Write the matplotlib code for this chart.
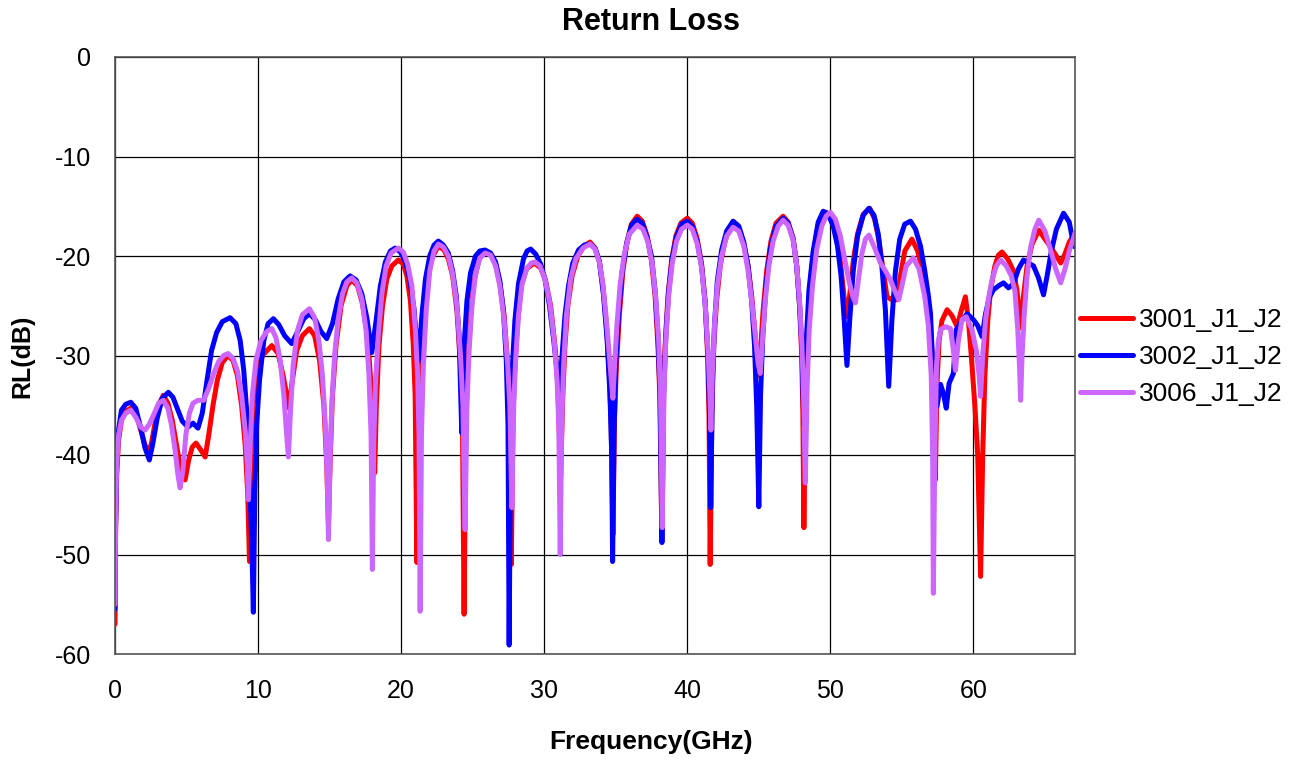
import matplotlib
matplotlib.use("Agg")
import matplotlib.pyplot as plt

plt.rcParams['font.family'] = ['Liberation Sans', 'DejaVu Sans']

title = "Return Loss"
xlabel = "Frequency(GHz)"
ylabel = "RL(dB)"
series_names = ["3001_J1_J2", "3002_J1_J2", "3006_J1_J2"]
series_colors = ["#FF0000", "#0000FF", "#CC66FF"]
x_ticks = [0, 10, 20, 30, 40, 50, 60]
y_ticks = [0, -10, -20, -30, -40, -50, -60]

# 3001_J1_J2 (red)
freq_3001 = [
    0.0, 0.04, 0.12, 0.25, 0.45, 0.75, 1.1, 1.45, 1.8, 2.1, 2.33, 2.55, 2.8, 3.1, 3.38, 3.7,
    4.0, 4.3, 4.6, 4.9, 5.15, 5.4, 5.66, 6.0, 6.3, 6.55, 6.85, 7.15, 7.5, 7.9, 8.25, 8.55,
    8.85, 9.1, 9.28, 9.4, 9.5, 9.65, 9.9, 10.3, 10.96, 11.4, 11.75, 12.0, 12.17, 12.35, 12.7, 13.1,
    13.59, 13.95, 14.3, 14.6, 14.8, 14.92, 15.05, 15.2, 15.45, 15.8, 16.2, 16.55, 16.95, 17.3, 17.65, 17.9,
    18.05, 18.15, 18.27, 18.45, 18.7, 19.0, 19.35, 19.8, 20.15, 20.4, 20.65, 20.85, 20.98, 21.1, 21.22, 21.35,
    21.55, 21.8, 22.1, 22.6, 23.0, 23.3, 23.6, 23.9, 24.15, 24.28, 24.4, 24.52, 24.65, 24.85, 25.1, 25.45,
    25.87, 26.25, 26.6, 26.9, 27.2, 27.45, 27.58, 27.7, 27.82, 27.95, 28.15, 28.4, 28.75, 29.3, 29.75, 30.1,
    30.45, 30.75, 30.95, 31.15, 31.3, 31.45, 31.65, 31.95, 32.35, 32.8, 33.2, 33.55, 33.85, 34.1, 34.35, 34.55,
    34.68, 34.8, 34.92, 35.05, 35.25, 35.5, 35.8, 36.1, 36.5, 36.85, 37.2, 37.5, 37.75, 37.95, 38.08, 38.2,
    38.32, 38.45, 38.65, 38.9, 39.2, 39.55, 40.0, 40.35, 40.7, 41.0, 41.25, 41.42, 41.52, 41.6, 41.72, 41.85,
    42.05, 42.3, 42.6, 42.9, 43.2, 43.6, 43.95, 44.25, 44.5, 44.75, 44.9, 45.0, 45.12, 45.3, 45.55, 45.85,
    46.2, 46.7, 47.05, 47.4, 47.65, 47.85, 48.0, 48.08, 48.15, 48.25, 48.38, 48.55, 48.8, 49.1, 49.4, 49.7,
    50.05, 50.4, 50.7, 50.95, 51.16, 51.35, 51.6, 51.9, 52.3, 52.75, 53.1, 53.4, 53.7, 53.96, 54.3, 54.66,
    54.9, 55.2, 55.7, 56.1, 56.45, 56.76, 57.0, 57.2, 57.34, 57.45, 57.6, 57.8, 58.16, 58.5, 58.86, 59.15,
    59.44, 59.65, 59.85, 60.1, 60.3, 60.5, 60.65, 60.8, 61.0, 61.2, 61.5, 61.75, 62.0, 62.4, 62.8, 63.05,
    63.3, 63.5, 63.75, 64.1, 64.57, 65.0, 65.4, 65.8, 66.1, 66.4, 66.7, 67.1]
rl_3001 = [
    -57.0, -48.0, -42.0, -38.5, -36.5, -35.6, -35.3, -35.8, -37.5, -39.0, -39.8, -38.8, -36.8, -34.8, -34.0, -34.8,
    -36.5, -39.0, -41.5, -42.5, -40.5, -39.2, -38.8, -39.5, -40.2, -38.0, -35.0, -32.5, -30.7, -30.0, -30.5, -32.0,
    -35.0, -39.0, -44.0, -50.7, -40.0, -35.0, -32.0, -30.0, -29.0, -29.8, -32.0, -34.0, -35.3, -33.0, -29.5, -28.0,
    -27.3, -28.0, -30.5, -35.0, -41.0, -47.0, -40.0, -34.0, -29.0, -25.0, -23.0, -22.4, -23.0, -24.8, -28.0, -33.0,
    -37.0, -41.8, -35.0, -29.0, -25.0, -22.3, -21.0, -20.4, -20.8, -22.0, -24.5, -29.0, -34.0, -50.8, -36.0, -30.0,
    -26.0, -22.5, -20.3, -19.0, -19.4, -20.3, -22.0, -25.5, -31.0, -36.0, -56.0, -37.0, -31.0, -26.0, -22.5, -20.3,
    -19.6, -19.8, -20.8, -22.8, -26.0, -31.0, -36.0, -51.0, -36.0, -31.0, -26.5, -23.0, -21.3, -20.7, -21.2, -22.5,
    -25.0, -29.0, -33.0, -42.0, -34.0, -29.0, -25.0, -22.0, -20.0, -19.0, -18.6, -19.2, -20.5, -23.0, -27.0, -32.0,
    -37.0, -48.0, -36.0, -31.0, -26.0, -21.5, -18.5, -16.8, -16.0, -16.5, -18.0, -20.5, -24.0, -29.0, -34.0, -46.0,
    -34.0, -29.0, -24.0, -20.5, -18.0, -16.7, -16.2, -16.7, -18.3, -20.8, -24.5, -30.0, -36.0, -51.0, -36.0, -29.0,
    -24.5, -21.0, -18.7, -17.3, -16.8, -17.3, -18.8, -21.0, -24.0, -28.0, -31.0, -32.0, -29.5, -25.5, -21.5, -18.5,
    -16.7, -16.0, -16.6, -18.2, -21.0, -25.0, -30.0, -36.0, -47.3, -36.0, -29.0, -24.0, -20.0, -17.3, -16.0, -15.6,
    -16.0, -17.8, -20.5, -24.0, -26.1, -24.0, -20.5, -17.8, -15.8, -15.2, -16.3, -18.5, -21.5, -24.1, -24.4, -24.4,
    -22.0, -19.5, -18.3, -19.5, -21.5, -23.4, -27.0, -32.3, -42.5, -33.0, -28.5, -26.5, -25.4, -26.0, -27.1, -25.5,
    -24.1, -26.5, -30.0, -35.0, -40.0, -52.2, -40.0, -32.0, -26.5, -23.4, -21.0, -19.9, -19.6, -20.3, -21.5, -23.5,
    -27.2, -24.0, -21.0, -18.8, -17.4, -18.3, -19.1, -20.0, -20.7, -19.8, -18.6, -17.7]

# 3002_J1_J2 (blue)
freq_3002 = [
    0.0, 0.04, 0.12, 0.25, 0.45, 0.75, 1.1, 1.45, 1.8, 2.1, 2.4, 2.65, 2.95, 3.3, 3.73, 4.05,
    4.35, 4.7, 5.1, 5.45, 5.8, 6.1, 6.4, 6.75, 7.1, 7.5, 8.04, 8.45, 8.75, 9.0, 9.25, 9.45,
    9.58, 9.67, 9.77, 9.9, 10.1, 10.4, 10.7, 11.07, 11.45, 11.85, 12.35, 12.8, 13.2, 13.59, 14.0, 14.4,
    14.8, 15.2, 15.6, 16.0, 16.43, 16.85, 17.25, 17.6, 17.95, 18.25, 18.55, 18.9, 19.25, 19.58, 19.95, 20.3,
    20.6, 20.9, 21.2, 21.45, 21.7, 22.0, 22.3, 22.6, 22.95, 23.3, 23.6, 23.85, 24.05, 24.24, 24.4, 24.6,
    24.85, 25.2, 25.5, 25.87, 26.25, 26.6, 26.9, 27.15, 27.35, 27.47, 27.55, 27.65, 27.78, 27.95, 28.2, 28.55,
    28.8, 29.05, 29.4, 29.75, 30.05, 30.35, 30.65, 30.9, 31.05, 31.25, 31.45, 31.7, 32.0, 32.4, 32.8, 33.2,
    33.55, 33.85, 34.15, 34.4, 34.6, 34.72, 34.78, 34.88, 35.0, 35.2, 35.45, 35.75, 36.1, 36.48, 36.85, 37.2,
    37.5, 37.75, 37.95, 38.1, 38.23, 38.35, 38.5, 38.7, 38.95, 39.25, 39.6, 40.0, 40.35, 40.7, 41.0, 41.25,
    41.45, 41.56, 41.64, 41.75, 41.9, 42.1, 42.4, 42.75, 43.2, 43.6, 43.95, 44.25, 44.5, 44.7, 44.85, 45.0,
    45.12, 45.28, 45.5, 45.8, 46.2, 46.7, 47.05, 47.4, 47.65, 47.85, 48.0, 48.15, 48.3, 48.5, 48.8, 49.15,
    49.5, 49.85, 50.2, 50.5, 50.75, 50.95, 51.16, 51.35, 51.6, 51.9, 52.3, 52.7, 53.05, 53.35, 53.6, 53.85,
    54.08, 54.3, 54.55, 54.85, 55.2, 55.6, 55.95, 56.3, 56.6, 56.85, 57.0, 57.2, 57.46, 57.7, 57.9, 58.1,
    58.3, 58.6, 58.8, 59.2, 59.56, 60.0, 60.3, 60.6, 60.85, 61.1, 61.4, 61.75, 62.1, 62.45, 62.8, 63.15,
    63.5, 63.85, 64.2, 64.55, 64.9, 65.15, 65.45, 65.8, 66.3, 66.7, 66.95, 67.1]
rl_3002 = [
    -55.5, -47.0, -40.5, -37.5, -35.5, -34.9, -34.7, -35.3, -37.3, -39.3, -40.5, -38.8, -36.3, -34.3, -33.7, -34.2,
    -35.3, -36.6, -37.2, -36.8, -37.3, -35.8, -32.8, -29.5, -27.7, -26.6, -26.2, -26.8, -28.5, -31.5, -36.5, -44.0,
    -50.0, -55.8, -44.0, -37.0, -32.5, -28.5, -26.8, -26.3, -26.9, -28.0, -28.8, -27.5, -26.3, -25.8, -26.4, -27.6,
    -28.3, -26.8, -24.3, -22.6, -22.0, -22.4, -23.8, -26.2, -29.7, -26.5, -23.0, -20.6, -19.5, -19.2, -19.6, -20.6,
    -22.3, -25.3, -30.6, -26.0, -22.3, -20.0, -18.9, -18.5, -18.9, -19.7, -21.5, -24.0, -28.0, -37.8, -29.0, -24.5,
    -21.7, -20.0, -19.5, -19.4, -19.7, -20.6, -22.5, -25.5, -30.5, -37.0, -59.1, -38.0, -31.0, -26.5, -22.8, -20.3,
    -19.5, -19.3, -19.8, -20.8, -22.3, -24.8, -28.3, -31.5, -33.5, -30.0, -26.0, -23.0, -20.7, -19.4, -18.9, -18.8,
    -19.2, -20.5, -24.0, -28.5, -34.0, -40.0, -50.7, -38.0, -31.0, -25.8, -21.5, -18.8, -16.9, -16.3, -16.7, -18.2,
    -20.0, -23.5, -28.0, -34.0, -48.8, -34.0, -28.0, -23.5, -20.2, -18.0, -16.8, -16.5, -17.0, -18.6, -21.0, -24.8,
    -30.0, -36.0, -45.3, -33.0, -27.0, -22.5, -19.4, -17.5, -16.5, -17.0, -18.6, -21.0, -24.5, -29.0, -35.0, -45.2,
    -34.0, -28.0, -23.0, -19.3, -17.0, -16.2, -16.7, -18.3, -21.0, -25.0, -29.0, -37.0, -29.0, -23.5, -19.5, -16.6,
    -15.5, -15.8, -17.0, -19.0, -22.0, -26.0, -31.0, -26.5, -21.5, -18.0, -15.9, -15.2, -15.9, -17.8, -21.0, -25.5,
    -33.1, -26.5, -21.5, -18.3, -16.8, -16.5, -17.3, -19.0, -21.5, -24.0, -25.8, -32.5, -35.1, -32.9, -33.8, -35.3,
    -32.8, -31.8, -27.4, -26.5, -25.8, -26.4, -27.0, -28.1, -25.8, -24.2, -23.4, -23.0, -22.7, -23.2, -22.8, -21.3,
    -20.4, -20.7, -21.0, -22.2, -23.9, -22.0, -19.5, -17.3, -15.7, -16.6, -18.5, -19.1]

# 3006_J1_J2 (purple)
freq_3006 = [
    0.0, 0.04, 0.12, 0.25, 0.45, 0.75, 1.1, 1.45, 1.8, 2.1, 2.4, 2.75, 3.05, 3.38, 3.7, 3.95,
    4.2, 4.4, 4.55, 4.75, 4.95, 5.2, 5.45, 5.8, 6.2, 6.55, 6.9, 7.25, 7.6, 7.9, 8.25, 8.55,
    8.85, 9.1, 9.25, 9.33, 9.45, 9.6, 9.85, 10.2, 10.6, 10.96, 11.25, 11.55, 11.8, 12.0, 12.12, 12.25,
    12.45, 12.75, 13.1, 13.59, 13.95, 14.25, 14.5, 14.7, 14.83, 14.92, 15.02, 15.15, 15.35, 15.6, 15.9, 16.2,
    16.55, 16.9, 17.25, 17.55, 17.75, 17.9, 17.99, 18.08, 18.2, 18.4, 18.65, 18.95, 19.3, 19.8, 20.15, 20.45,
    20.75, 21.0, 21.15, 21.25, 21.33, 21.42, 21.55, 21.75, 22.0, 22.3, 22.6, 22.95, 23.3, 23.6, 23.9, 24.15,
    24.32, 24.47, 24.6, 24.75, 24.95, 25.2, 25.5, 25.87, 26.25, 26.6, 26.9, 27.2, 27.45, 27.6, 27.74, 27.87,
    28.0, 28.2, 28.45, 28.8, 29.1, 29.37, 29.7, 30.05, 30.4, 30.7, 30.9, 31.02, 31.12, 31.22, 31.35, 31.55,
    31.85, 32.2, 32.7, 33.2, 33.55, 33.85, 34.1, 34.35, 34.55, 34.72, 34.8, 34.92, 35.08, 35.3, 35.6, 35.95,
    36.5, 36.9, 37.25, 37.55, 37.8, 38.0, 38.13, 38.25, 38.37, 38.5, 38.7, 38.95, 39.25, 39.6, 40.0, 40.35,
    40.7, 41.0, 41.25, 41.45, 41.57, 41.65, 41.75, 41.9, 42.1, 42.4, 42.75, 43.2, 43.6, 43.95, 44.25, 44.5,
    44.75, 44.95, 45.1, 45.25, 45.45, 45.7, 46.0, 46.35, 46.7, 47.05, 47.4, 47.65, 47.85, 48.0, 48.12, 48.25,
    48.38, 48.52, 48.75, 49.05, 49.4, 49.7, 50.0, 50.35, 50.7, 51.0, 51.3, 51.55, 51.75, 51.95, 52.2, 52.45,
    52.7, 53.1, 53.5, 53.85, 54.2, 54.5, 54.78, 55.0, 55.3, 55.8, 56.2, 56.6, 56.85, 57.05, 57.15, 57.2,
    57.3, 57.42, 57.55, 57.7, 58.05, 58.4, 58.6, 58.74, 58.95, 59.2, 59.5, 59.9, 60.2, 60.4, 60.5, 60.65,
    60.85, 61.05, 61.3, 61.6, 61.9, 62.3, 62.65, 62.9, 63.1, 63.22, 63.3, 63.4, 63.55, 63.75, 64.0, 64.3,
    64.57, 65.0, 65.4, 65.75, 66.1, 66.4, 66.7, 67.1]
rl_3006 = [
    -55.0, -46.0, -41.0, -38.0, -36.5, -35.8, -35.5, -36.2, -37.2, -37.5, -36.9, -35.8, -34.8, -34.5, -35.3, -37.0,
    -39.5, -42.0, -43.3, -41.5, -38.0, -35.8, -34.8, -34.5, -34.5, -33.3, -31.8, -30.6, -30.0, -29.8, -30.3, -31.5,
    -34.0, -37.5, -41.0, -44.5, -39.0, -34.0, -30.5, -28.5, -27.6, -27.3, -28.2, -30.5, -34.0, -38.0, -40.2, -36.0,
    -31.0, -27.5, -25.9, -25.3, -26.2, -28.5, -32.0, -37.0, -42.0, -48.5, -41.0, -35.0, -30.0, -26.3, -23.8, -22.6,
    -22.2, -22.7, -24.3, -27.5, -32.0, -38.0, -51.5, -39.0, -33.0, -28.0, -23.8, -21.0, -19.7, -19.2, -19.6, -20.8,
    -23.0, -27.5, -32.0, -38.0, -55.7, -38.0, -31.0, -25.5, -21.5, -19.5, -18.8, -19.1, -20.0, -21.8, -25.0, -30.0,
    -35.0, -47.5, -35.0, -29.5, -25.0, -21.8, -20.2, -19.7, -19.9, -21.0, -23.0, -26.5, -31.0, -35.0, -45.3, -35.0,
    -30.5, -26.0, -22.8, -21.2, -20.7, -20.6, -21.0, -22.3, -24.8, -28.5, -32.5, -37.0, -50.0, -37.0, -31.0, -26.0,
    -22.3, -20.3, -19.2, -18.8, -19.3, -20.6, -22.8, -26.5, -30.0, -33.0, -34.3, -31.0, -27.0, -23.0, -19.8, -17.8,
    -16.9, -17.3, -18.6, -20.8, -24.2, -28.5, -34.0, -47.3, -34.0, -28.5, -24.0, -20.7, -18.5, -17.3, -16.9, -17.3,
    -18.8, -21.2, -24.8, -29.5, -33.5, -37.5, -32.0, -27.0, -23.0, -20.0, -18.0, -17.1, -17.5, -19.0, -21.5, -24.5,
    -28.0, -30.8, -31.8, -28.5, -24.5, -21.0, -18.5, -17.0, -16.4, -16.9, -18.4, -21.0, -24.5, -28.5, -33.5, -42.8,
    -33.0, -27.5, -23.0, -19.3, -17.0, -16.0, -15.6, -16.3, -18.0, -20.3, -22.5, -24.0, -24.7, -22.5, -19.8, -18.3,
    -17.9, -19.2, -20.7, -21.5, -22.4, -23.5, -24.4, -23.0, -21.0, -20.2, -21.3, -24.1, -27.0, -32.0, -40.0, -53.9,
    -40.0, -31.0, -28.5, -27.4, -27.1, -27.3, -29.5, -31.5, -28.5, -26.4, -26.1, -27.4, -29.5, -32.0, -34.1, -30.0,
    -26.4, -24.3, -22.4, -21.0, -20.4, -21.0, -22.0, -23.5, -27.4, -31.0, -34.5, -30.0, -25.9, -22.0, -19.1, -17.3,
    -16.4, -17.5, -19.4, -21.3, -22.7, -21.3, -19.5, -17.7]

fig = plt.figure(figsize=(13.02, 7.59), dpi=100)
ax = fig.add_axes([115 / 1302, 1 - 654 / 759, 960 / 1302, 597 / 759])

all_freq = [freq_3001, freq_3002, freq_3006]
all_rl = [rl_3001, rl_3002, rl_3006]
for f, r, name, c in zip(all_freq, all_rl, series_names, series_colors):
    ax.plot(f, r, color=c, lw=3.6, label=name, solid_joinstyle='round', solid_capstyle='round')

ax.set_xlim(0, 67.1)
ax.set_ylim(-60, 0)
ax.set_xticks(x_ticks)
ax.set_yticks(y_ticks)
ax.set_xticklabels([str(t) for t in x_ticks])
ax.set_yticklabels([str(t) for t in y_ticks])
ax.tick_params(axis='both', length=0, labelsize=18)
ax.tick_params(axis='y', pad=17)
ax.tick_params(axis='x', pad=18)
ax.grid(True, color='black', lw=0.9)
ax.set_axisbelow(True)
for s in ax.spines.values():
    s.set_color('#555555')
    s.set_linewidth(1.2)

fig.text(0.5, 1 - 22 / 759, title, ha='center', va='center', fontsize=22, fontweight='bold')
fig.text(0.5, 1 - 742 / 759, xlabel, ha='center', va='center', fontsize=19, fontweight='bold')
fig.text(22 / 1302, 1 - 356 / 759, ylabel, ha='center', va='center', rotation=90,
         fontsize=18, fontweight='bold')

leg = ax.legend(loc='center left', bbox_to_anchor=(1.005, 0.497), frameon=False,
                fontsize=19, handlelength=2.0, handletextpad=0.25, labelspacing=0.5,
                borderpad=0, borderaxespad=0)

fig.savefig("out.png", dpi=100)
